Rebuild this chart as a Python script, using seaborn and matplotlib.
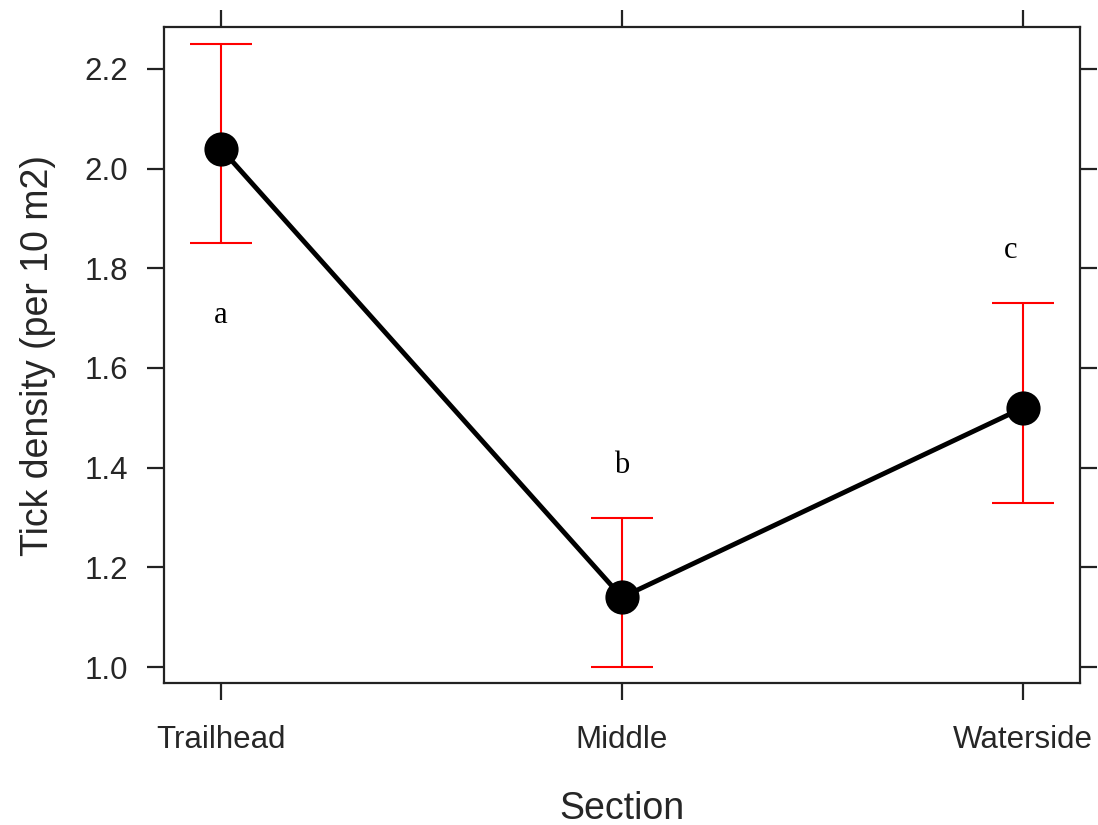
import numpy as np
import matplotlib
matplotlib.use("Agg")
import matplotlib.pyplot as plt
import seaborn as sns

# ---- data ----
sections = ["Trailhead", "Middle", "Waterside"]
means = [2.04, 1.14, 1.52]
lower = [1.85, 1.00, 1.33]
upper = [2.25, 1.30, 1.73]
letters = ["a", "b", "c"]
letter_x = [0.0, 1.0, 1.97]
letter_y = [1.69, 1.39, 1.82]
yticks = [1.0, 1.2, 1.4, 1.6, 1.8, 2.0, 2.2]

sns.set_theme(style="white")
plt.rcParams["font.family"] = ["Liberation Sans", "DejaVu Sans"]
text_col = "#262626"

fig = plt.figure(figsize=(10.98, 8.25), dpi=100)
ax = fig.add_axes([164 / 1098, 1 - 683 / 825, (1080 - 164) / 1098, (683 - 27) / 825])

pos = np.arange(len(sections))
m = np.array(means)
yerr = np.vstack([m - np.array(lower), np.array(upper) - m])
ax.errorbar(pos, m, yerr=yerr, fmt="none", ecolor="#FF0000",
            elinewidth=1.5, capsize=22, capthick=1.5, zorder=2)

sns.pointplot(x=sections, y=means, ax=ax, color="black", errorbar=None,
              markers="o", markersize=22, linewidth=3.5, zorder=3)

for lx, ly, t in zip(letter_x, letter_y, letters):
    ax.text(lx, ly, t, ha="center", va="baseline", fontsize=22,
            family=["Liberation Serif", "DejaVu Serif"], color="black")

ax.set_xlim(-0.142, 2.142)
ax.set_ylim(0.968, 2.284)
ax.set_yticks(yticks)
ax.set_yticklabels([f"{v:.1f}" for v in yticks])
ax.set_xticks(pos)
ax.set_xticklabels(sections)

for s in ax.spines.values():
    s.set_visible(True)
    s.set_color("#222222")
    s.set_linewidth(1.6)

ax.tick_params(axis="both", which="both", direction="out", length=12, width=1.6,
               color="#222222", labelsize=22.5, labelcolor=text_col,
               top=True, right=True, labeltop=False, labelright=False,
               left=True, bottom=True)
ax.tick_params(axis="y", pad=14)
ax.tick_params(axis="x", pad=18)

ax.set_xlabel("Section", fontsize=27, color=text_col, labelpad=26)
ax.set_ylabel("Tick density (per 10 m2)", fontsize=27, color=text_col, labelpad=20)
ax.grid(False)

fig.savefig("out.png", dpi=100)
